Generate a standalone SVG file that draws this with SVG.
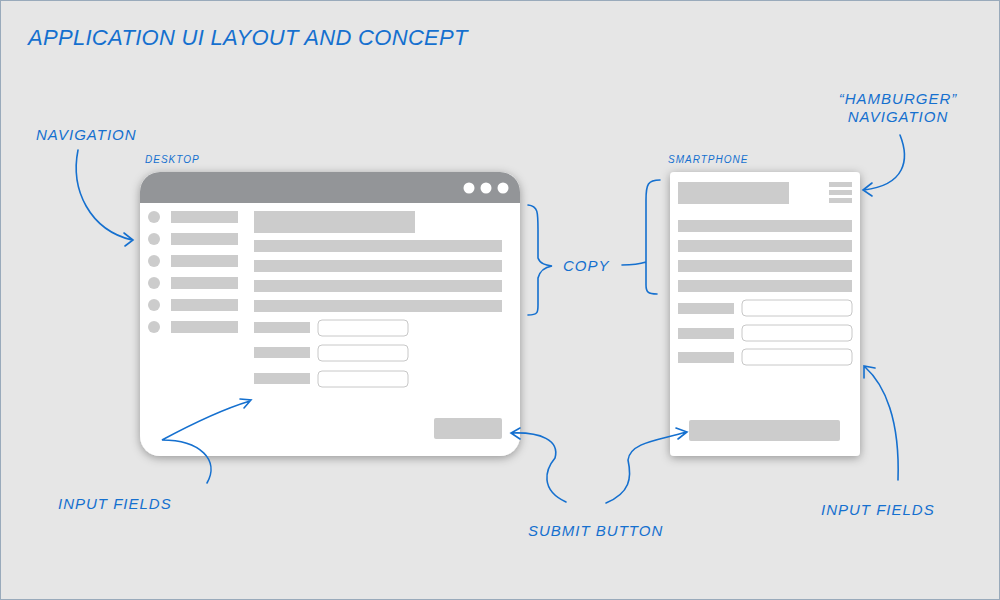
<svg xmlns="http://www.w3.org/2000/svg" width="1000" height="600" viewBox="0 0 1000 600">
<style>
.t{font-family:"Liberation Sans",sans-serif;font-style:italic;fill:#1570cf;letter-spacing:1px}
.g{fill:#cccccc}
.in{fill:#fff;stroke:#c8c8c8;stroke-width:1}
.c{fill:none;stroke:#1570cf;stroke-width:1.6;stroke-linecap:round}
</style>
<defs>
<filter id="sh" x="-10%" y="-10%" width="120%" height="120%"><feDropShadow dx="0" dy="2" stdDeviation="5" flood-opacity="0.35"/></filter>
</defs>
<rect x="0.5" y="0.5" width="999" height="599" fill="#e6e6e6" stroke="#9ab" />
<text class="t" x="28" y="45" font-size="22" style="letter-spacing:0.3px">APPLICATION UI LAYOUT AND CONCEPT</text>
<g id="desktop">
<text class="t" x="145" y="163" font-size="10">DESKTOP</text>
<rect x="140" y="172" width="380" height="284" rx="20" fill="#fff" filter="url(#sh)"/>
<path d="M140 203 V192 a20 20 0 0 1 20 -20 H500 a20 20 0 0 1 20 20 V203 Z" fill="#939598"/>
<circle cx="469" cy="188" r="5.5" fill="#fff"/><circle cx="486" cy="188" r="5.5" fill="#fff"/><circle cx="503" cy="188" r="5.5" fill="#fff"/>
<g fill="#cccccc">
<circle cx="154" cy="217" r="6"/><circle cx="154" cy="239" r="6"/><circle cx="154" cy="261" r="6"/><circle cx="154" cy="283" r="6"/><circle cx="154" cy="305" r="6"/><circle cx="154" cy="327" r="6"/>
<rect x="171" y="211" width="67" height="12"/><rect x="171" y="233" width="67" height="12"/><rect x="171" y="255" width="67" height="12"/><rect x="171" y="277" width="67" height="12"/><rect x="171" y="299" width="67" height="12"/><rect x="171" y="321" width="67" height="12"/>
<rect x="254" y="211" width="161" height="22"/>
<rect x="254" y="240" width="248" height="12"/><rect x="254" y="260" width="248" height="12"/><rect x="254" y="280" width="248" height="12"/><rect x="254" y="300" width="248" height="12"/>
<rect x="254" y="322" width="56" height="11"/><rect x="254" y="347" width="56" height="11"/><rect x="254" y="373" width="56" height="11"/>
<rect x="434" y="418" width="68" height="21" rx="2"/>
</g>
<rect class="in" x="318" y="320" width="90" height="16" rx="4"/><rect class="in" x="318" y="345" width="90" height="16" rx="4"/><rect class="in" x="318" y="371" width="90" height="16" rx="4"/>
</g>
<g id="phone">
<text class="t" x="668" y="163" font-size="10">SMARTPHONE</text>
<rect x="670" y="172" width="190" height="284" rx="4" fill="#fff" filter="url(#sh)"/>
<g fill="#cccccc">
<rect x="678" y="182" width="111" height="22"/>
<rect x="829" y="182" width="23" height="5"/><rect x="829" y="190" width="23" height="5"/><rect x="829" y="198" width="23" height="5"/>
<rect x="678" y="220" width="174" height="12"/><rect x="678" y="240" width="174" height="12"/><rect x="678" y="260" width="174" height="12"/><rect x="678" y="280" width="174" height="12"/>
<rect x="678" y="303" width="56" height="11"/><rect x="678" y="328" width="56" height="11"/><rect x="678" y="352" width="56" height="11"/>
<rect x="689" y="420" width="151" height="21" rx="2"/>
</g>
<rect class="in" x="742" y="300" width="110" height="16" rx="4"/><rect class="in" x="742" y="325" width="110" height="16" rx="4"/><rect class="in" x="742" y="349" width="110" height="16" rx="4"/>
</g>
<g id="labels">
<text class="t" x="36" y="140" font-size="15">NAVIGATION</text>
<text class="t" x="563" y="271" font-size="15">COPY</text>
<text class="t" x="898" y="104" font-size="15" text-anchor="middle">“HAMBURGER”</text>
<text class="t" x="898" y="122" font-size="15" text-anchor="middle">NAVIGATION</text>
<text class="t" x="58" y="509" font-size="15">INPUT FIELDS</text>
<text class="t" x="528" y="536" font-size="15">SUBMIT BUTTON</text>
<text class="t" x="821" y="515" font-size="15">INPUT FIELDS</text>
</g>
<g id="connectors">
<path class="c" d="M78 150 C70 190 90 230 132 240 M124 233 L133 240 L125 246"/>
<path class="c" d="M528 205 C538 206 538 212 538 230 L538 258 C540 264 546 265 552 266 C546 267 540 270 538 278 L538 305 C538 312 538 315 528 315"/>
<path class="c" d="M622 265 C632 265 640 264 646 262 M660 180 C648 180 646 184 646 200 L646 285 C646 292 648 294 657 294"/>
<path class="c" d="M900 135 C910 160 905 185 864 190 M872 183 L863 190 L872 196"/>
<path class="c" d="M207 483 C220 460 200 440 162 440 C190 425 220 410 250 401 M240 399 L251 400 L244 408"/>
<path class="c" d="M566 502 C540 490 545 470 555 458 C560 440 540 432 512 433 M520 428 L511 433 L520 439"/>
<path class="c" d="M606 503 C630 493 632 478 628 460 C630 442 660 440 686 432 M676 428 L687 432 L678 439"/>
<path class="c" d="M898 480 C900 420 885 385 865 367 M864 378 L864 366 L875 368"/>
</g>
</svg>
